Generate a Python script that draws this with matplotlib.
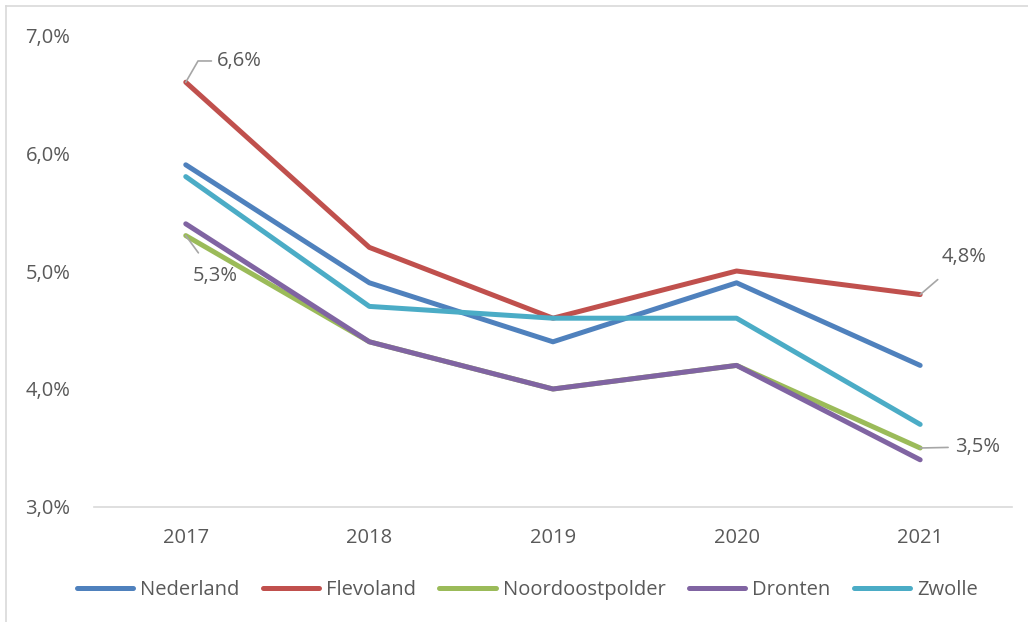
import matplotlib
matplotlib.use("Agg")
import matplotlib.pyplot as plt
from matplotlib.lines import Line2D
import numpy as np

plt.rcParams["font.family"] = ["Open Sans", "DejaVu Sans"]

years = ["2017", "2018", "2019", "2020", "2021"]
nederland = [5.9, 4.9, 4.4, 4.9, 4.2]
flevoland = [6.6, 5.2, 4.6, 5.0, 4.8]
noordoostpolder = [5.3, 4.4, 4.0, 4.2, 3.5]
dronten = [5.4, 4.4, 4.0, 4.2, 3.4]
zwolle = [5.8, 4.7, 4.6, 4.6, 3.7]

series = [
	("Nederland", nederland, "#4F81BD"),
	("Flevoland", flevoland, "#C0504D"),
	("Noordoostpolder", noordoostpolder, "#9BBB59"),
	("Dronten", dronten, "#8064A2"),
	("Zwolle", zwolle, "#4BACC6"),
]

TEXT = "#595959"
FS = 14.5

fig = plt.figure(figsize=(10.28, 6.22), dpi=100)
ax = fig.add_axes([0.0914, 0.1849, 0.8930, 0.7588])

xs = np.arange(len(years))
for name, vals, color in series:
	ax.plot(xs, vals, color=color, linewidth=3.6, solid_capstyle="round",
			solid_joinstyle="round", label=name)

yticks = [3.0, 4.0, 5.0, 6.0, 7.0]
ax.set_xlim(-0.5, len(years) - 0.5)
ax.set_ylim(3.0, 7.0)
ax.set_yticks(yticks)
ax.set_yticklabels([f"{v:.1f}%".replace(".", ",") for v in yticks])
ax.set_xticks(xs)
ax.set_xticklabels(years)
ax.tick_params(axis="both", length=0, labelsize=FS, colors=TEXT)
ax.tick_params(axis="x", pad=15)
ax.tick_params(axis="y", pad=17)
for side in ["top", "right", "left"]:
	ax.spines[side].set_visible(False)
ax.spines["bottom"].set_color("#D9D9D9")
ax.spines["bottom"].set_linewidth(1.2)


def fmt(v):
	return f"{v:.1f}%".replace(".", ",")


# data labels with leader lines
lead = dict(color="#A6A6A6", linewidth=1.2)
ax.annotate(fmt(flevoland[0]), xy=(0, flevoland[0]), xytext=(0.17, 6.78),
			fontsize=FS, color=TEXT, va="center", ha="left",
			arrowprops=dict(arrowstyle="-", connectionstyle="angle,angleA=0,angleB=60,rad=0", **lead, shrinkA=2, shrinkB=0))
ax.annotate(fmt(noordoostpolder[0]), xy=(0, noordoostpolder[0]), xytext=(0.16, 4.96),
			fontsize=FS, color=TEXT, va="center", ha="center",
			arrowprops=dict(arrowstyle="-", **lead, shrinkA=9, shrinkB=0))
ax.annotate(fmt(flevoland[4]), xy=(4, flevoland[4]), xytext=(4.24, 5.12),
			fontsize=FS, color=TEXT, va="center", ha="center",
			arrowprops=dict(arrowstyle="-", **lead, shrinkA=11, shrinkB=0))
ax.annotate(fmt(noordoostpolder[4]), xy=(4, noordoostpolder[4]), xytext=(4.19, 3.51),
			fontsize=FS, color=TEXT, va="center", ha="left",
			arrowprops=dict(arrowstyle="-", **lead, shrinkA=3, shrinkB=0))

handles = [Line2D([0], [0], color=c, linewidth=3.6, solid_capstyle="round") for _, _, c in series]
fig.legend(handles, [n for n, _, _ in series], loc="center", bbox_to_anchor=(0.513, 0.052),
		   ncol=5, frameon=False, fontsize=FS, labelcolor=TEXT, handlelength=2.8,
		   handletextpad=0.35, columnspacing=1.15)

# light outer border (chart area frame)
fig.add_artist(Line2D([0.006, 0.006], [0.0, 0.991], color="#D9D9D9", linewidth=1.2))
fig.add_artist(Line2D([0.006, 1.0], [0.991, 0.991], color="#D9D9D9", linewidth=1.2))

fig.savefig("out.png", dpi=100)
